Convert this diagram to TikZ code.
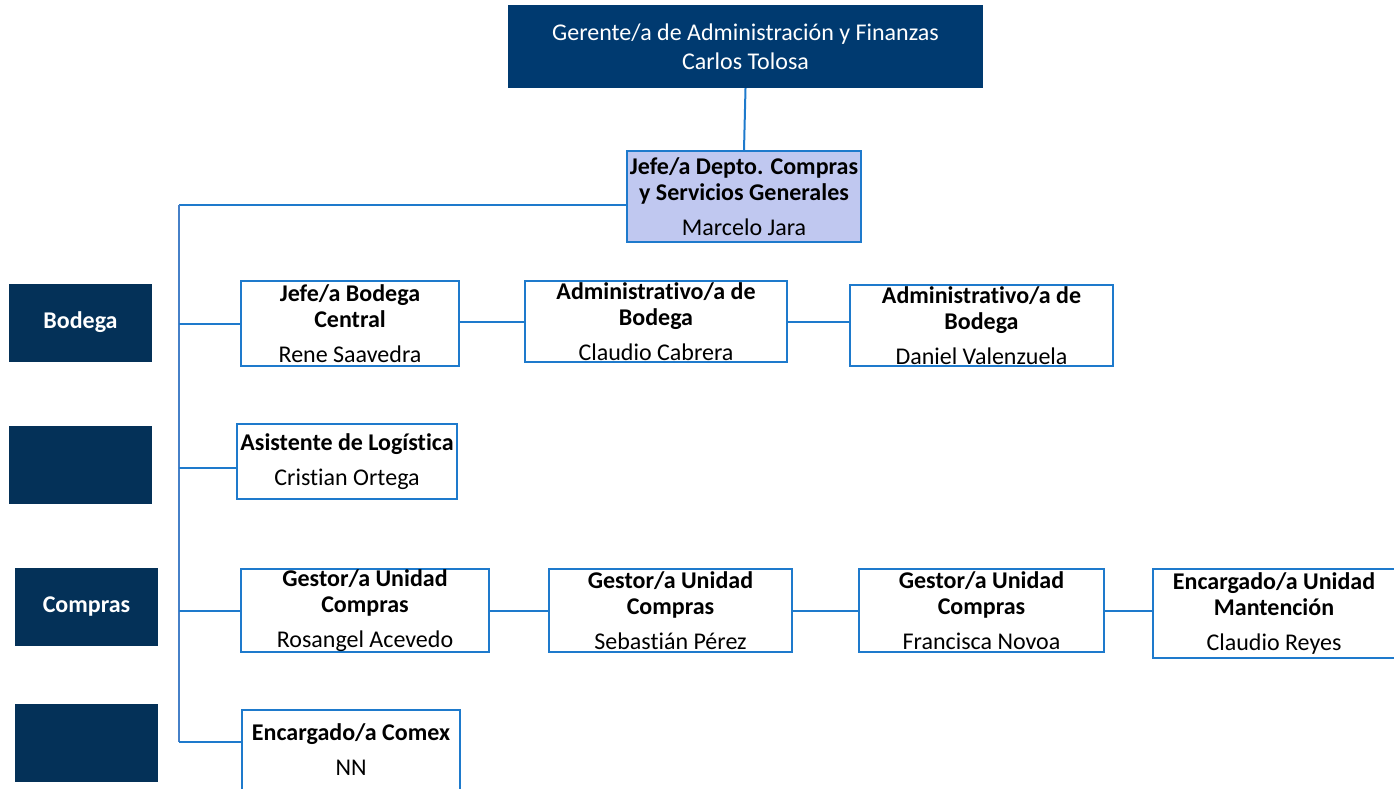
\documentclass[tikz,border=0pt]{standalone}
\usepackage{fontspec}
\setmainfont{Carlito}[Ligatures=NoCommon]
\usetikzlibrary{positioning}
\definecolor{topblue}{RGB}{0,58,112}
\definecolor{navy}{RGB}{4,49,88}
\definecolor{linkblue}{RGB}{30,122,204}
\definecolor{trunkblue}{RGB}{70,128,200}
\definecolor{lavender}{RGB}{192,200,240}
\tikzset{
  unit/.style={draw=linkblue,line width=2pt,fill=white,align=center,inner sep=0pt,
    font=\fontsize{24}{26}\selectfont},
  area/.style={fill=navy,text=white,inner sep=0pt,minimum width=143,minimum height=78,
    font=\bfseries\fontsize{24}{26}\selectfont},
  link/.style={draw=linkblue,line width=2pt},
}

\begin{document}
\begin{tikzpicture}[x=1pt,y=-1pt]
  \useasboundingbox (0,0) rectangle (1394,789);

  % head of the department
  \node[fill=topblue,text=white,align=center,inner sep=0pt,minimum width=475,minimum height=83,
    font=\fontsize{24}{29}\selectfont] (gerente) at (745.5,46.5)
    {Gerente/a de Administración y Finanzas\\Carlos Tolosa};
  \node[unit,fill=lavender,minimum width=234,minimum height=91] (jefe) at (744,196.5)
    {\textbf{Jefe/a Depto. Compras}\\\textbf{y Servicios Generales}\\[9pt]Marcelo Jara};

  % areas on the left
  \node[area] (bodega) at (80.5,322.5) {Bodega};
  \node[area] (blankA) at (80.5,465) {};
  \node[area] (compras) at (86.5,607) {Compras};
  \node[area] (blankB) at (86.5,743) {};

  % bodega row
  \node[unit,minimum width=218,minimum height=85] (jbod) at (350,323.5)
    {\textbf{Jefe/a Bodega}\\\textbf{Central}\\[9pt]Rene Saavedra};
  \node[unit,minimum width=262,minimum height=81] (adm1) at (656,321.5)
    {\textbf{Administrativo/a de}\\\textbf{Bodega}\\[9pt]Claudio Cabrera};
  \node[unit,minimum width=263,minimum height=81] (adm2) at (981.5,325.5)
    {\textbf{Administrativo/a de}\\\textbf{Bodega}\\[9pt]Daniel Valenzuela};

  % logistica
  \node[unit,minimum width=220,minimum height=75] (asis) at (347,461.5)
    {\textbf{Asistente de Logística}\\[9pt]Cristian Ortega};

  % compras row
  \node[unit,minimum width=248,minimum height=83] (ges1) at (365,610.5)
    {\textbf{Gestor/a Unidad}\\\textbf{Compras}\\[9pt]Rosangel Acevedo};
  \node[unit,minimum width=243,minimum height=83] (ges2) at (670.5,610.5)
    {\textbf{Gestor/a Unidad}\\\textbf{Compras}\\[9pt]Sebastián Pérez};
  \node[unit,minimum width=245,minimum height=83] (ges3) at (981.5,610.5)
    {\textbf{Gestor/a Unidad}\\\textbf{Compras}\\[9pt]Francisca Novoa};
  \node[unit,minimum width=242,minimum height=89] (mant) at (1274,613.5)
    {\textbf{Encargado/a Unidad}\\\textbf{Mantención}\\[9pt]Claudio Reyes};

  % comex
  \node[unit,minimum width=218,minimum height=80] (comex) at (351,750)
    {\textbf{Encargado/a Comex}\\[9pt]NN};

  % connectors
  \coordinate (trunktop) at (179,205);
  \coordinate (trunkbot) at (179,742);
  \draw[link] (gerente.south) -- (jefe.north);
  \draw[link] (jefe.west |- trunktop) -- (trunktop);
  \draw[draw=trunkblue,line width=2pt] (trunktop) -- (trunkbot);
  \draw[link] (trunkbot) -- (comex.west |- trunkbot);
  \draw[link] (jbod.west -| trunktop) -- (jbod.west);
  \draw[link] ([yshift=-6.5pt]asis.west -| trunktop) -- ([yshift=-6.5pt]asis.west);
  \draw[link] (ges1.west -| trunktop) -- (ges1.west);
  \draw[link] (adm1.west -| jbod.east) -- (adm1.west);
  \draw[link] (adm1.east) -- (adm1.east -| adm2.west);
  \draw[link] (ges1.east) -- (ges2.west);
  \draw[link] (ges2.east) -- (ges3.west);
  \draw[link] (ges3.east) -- (ges3.east -| mant.west);
\end{tikzpicture}
\end{document}
